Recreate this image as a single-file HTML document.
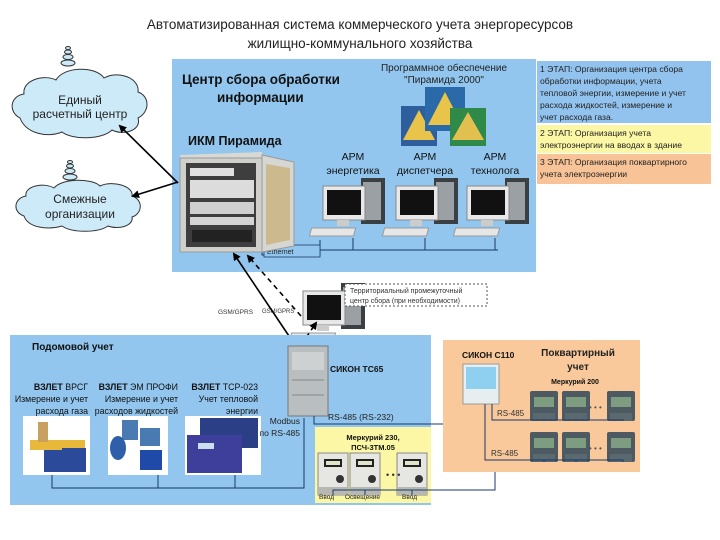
<!DOCTYPE html>
<html><head><meta charset="utf-8"><style>
html,body{margin:0;padding:0;background:#fff}
svg{display:block}
text{font-family:"Liberation Sans","DejaVu Sans",sans-serif}
</style></head><body>
<svg width="720" height="540" viewBox="0 0 720 540" xmlns="http://www.w3.org/2000/svg">
<defs>
<marker id="ar" markerWidth="8" markerHeight="8" refX="6" refY="4" orient="auto" markerUnits="userSpaceOnUse"><path d="M0,0 L8,4 L0,8 z" fill="#000"/></marker>
<g id="pc">
<rect x="38" y="0" width="24" height="46" fill="#3a3f44"/><rect x="40" y="4" width="18" height="38" fill="#9aa0a4"/>
<rect x="0" y="8" width="42" height="34" fill="#e8e8e8" stroke="#888"/><rect x="4" y="12" width="34" height="25" fill="#111"/>
<rect x="14" y="42" width="12" height="6" fill="#ccc"/>
<rect x="2" y="50" width="44" height="8" fill="#e6e6e6" stroke="#999" transform="skewX(-15)"/>
</g>
<g id="mer">
<rect x="0" y="0" width="28" height="30" fill="#4d5a62" rx="2"/><rect x="4" y="6" width="20" height="10" fill="#7e9c80"/>
<rect x="3" y="22" width="22" height="8" fill="#5a6870"/>
</g>
<g id="m230">
<rect x="0" y="0" width="30" height="42" fill="#e6e6e2" stroke="#888"/><rect x="6" y="6" width="18" height="8" fill="#222"/><rect x="8" y="8" width="14" height="4" fill="#dfe6c8"/>
<circle cx="22" cy="26" r="4" fill="#333"/><rect x="0" y="34" width="30" height="8" fill="#b8b8b2"/>
</g>
</defs>

<text x="360" y="29" font-size="13.5" text-anchor="middle" fill="#222">Автоматизированная система коммерческого учета энергоресурсов</text>
<text x="360" y="48" font-size="13.5" text-anchor="middle" fill="#222">жилищно-коммунального хозяйства</text>

<!-- top blue -->
<rect x="172" y="59" width="364" height="213" fill="#92c6ee"/>
<text x="182" y="84" font-size="13.5" font-weight="bold" fill="#111">Центр сбора обработки</text>
<text x="217" y="102" font-size="13.5" font-weight="bold" fill="#111">информации</text>
<text x="188" y="145" font-size="12.5" font-weight="bold" fill="#111">ИКМ Пирамида</text>
<text x="444" y="71" font-size="10" text-anchor="middle" fill="#222">Программное обеспечение</text>
<text x="444" y="83" font-size="10" text-anchor="middle" fill="#222">"Пирамида 2000"</text>
<rect x="401" y="106" width="36" height="40" fill="#2e5f9c"/><polygon points="403,140 419,110 435,140" fill="#e8c44a"/>
<rect x="425" y="87" width="40" height="44" fill="#2a6aa8"/><polygon points="428,125 445,92 462,125" fill="#e8c44a"/>
<rect x="450" y="108" width="36" height="38" fill="#2f8a4a"/><polygon points="452,140 468,112 484,140" fill="#e2c050"/>
<text x="353" y="160" font-size="10.5" text-anchor="middle" fill="#111">АРМ</text>
<text x="353" y="174" font-size="10.5" text-anchor="middle" fill="#111">энергетика</text>
<text x="425" y="160" font-size="10.5" text-anchor="middle" fill="#111">АРМ</text>
<text x="425" y="174" font-size="10.5" text-anchor="middle" fill="#111">диспетчера</text>
<text x="495" y="160" font-size="10.5" text-anchor="middle" fill="#111">АРМ</text>
<text x="495" y="174" font-size="10.5" text-anchor="middle" fill="#111">технолога</text>
<use href="#pc" x="323" y="178"/><use href="#pc" x="396" y="178"/><use href="#pc" x="467" y="178"/>
<polyline points="262,238 262,255 320,255 320,240" fill="none" stroke="#1a3a6a" stroke-width="1"/>
<rect x="264" y="245" width="56" height="12" fill="#92c6ee" stroke="#1a3a6a" stroke-width="0.8"/>
<text x="267" y="254" font-size="7" fill="#222">Ethernet</text>
<polyline points="320,250 498,250" fill="none" stroke="#1a3a6a"/>
<line x1="353" y1="250" x2="353" y2="238" stroke="#1a3a6a"/><line x1="425" y1="250" x2="425" y2="238" stroke="#1a3a6a"/><line x1="495" y1="250" x2="495" y2="238" stroke="#1a3a6a"/>
<!-- cabinet -->
<polygon points="180,155 262,152 262,158 180,160" fill="#d8d8d4"/>
<rect x="180" y="158" width="82" height="94" fill="#cfd0cc" stroke="#999"/>
<rect x="186" y="163" width="70" height="84" fill="#3e3e3e"/>
<rect x="190" y="168" width="44" height="8" fill="#e0e0e0"/><rect x="190" y="180" width="64" height="18" fill="#dcdcdc"/>
<rect x="190" y="202" width="64" height="12" fill="#cfcfcf"/><rect x="190" y="217" width="64" height="8" fill="#d4d4d4"/><rect x="192" y="230" width="60" height="12" fill="#222"/>
<polygon points="262,155 294,162 294,246 262,252" fill="#d6d6d2" stroke="#999"/>
<polygon points="266,164 290,168 290,240 266,245" fill="#cdb98e"/>

<!-- stage boxes -->
<rect x="537" y="61" width="174" height="62" fill="#92c3ee"/>
<g font-size="8.6" fill="#222">
<text x="540" y="72">1 ЭТАП: Организация центра сбора</text>
<text x="540" y="84">обработки информации, учета</text>
<text x="540" y="96">тепловой энергии, измерение и учет</text>
<text x="540" y="108">расхода жидкостей, измерение и</text>
<text x="540" y="120">учет расхода газа.</text>
</g>
<rect x="537" y="125" width="174" height="28" fill="#fbf7a4"/>
<g font-size="8.6" fill="#222"><text x="540" y="136">2 ЭТАП: Организация учета</text><text x="540" y="148">электроэнергии на вводах в здание</text></g>
<rect x="537" y="154" width="174" height="30" fill="#f7c397"/>
<g font-size="8.6" fill="#222"><text x="540" y="165">3 ЭТАП: Организация поквартирного</text><text x="540" y="177">учета электроэнергии</text></g>

<!-- clouds -->
<g fill="#cdeaf8" stroke="#333" stroke-width="1">
<path d="M20,118 C8,112 10,96 24,94 C22,80 44,74 56,80 C64,66 96,66 104,78 C118,70 140,78 138,92 C150,96 150,112 138,118 C142,130 124,136 112,130 C102,140 72,140 62,132 C48,138 26,134 20,118 z"/>
<path d="M24,216 C12,212 14,198 26,196 C24,186 44,182 54,188 C62,178 92,178 100,186 C112,180 134,186 132,196 C144,200 142,214 132,217 C134,226 118,230 108,226 C98,233 72,233 62,226 C48,230 28,228 24,216 z"/>
<ellipse cx="68" cy="63" rx="7" ry="3"/><ellipse cx="68" cy="57" rx="5" ry="2.5"/><ellipse cx="68" cy="52" rx="3.5" ry="2"/><ellipse cx="68" cy="48" rx="2.5" ry="1.5"/>
<ellipse cx="70" cy="177" rx="7" ry="3"/><ellipse cx="70" cy="171" rx="5" ry="2.5"/><ellipse cx="70" cy="166" rx="3.5" ry="2"/><ellipse cx="70" cy="162" rx="2.5" ry="1.5"/>
</g>
<text x="80" y="104" font-size="12" text-anchor="middle" fill="#222">Единый</text>
<text x="80" y="118" font-size="12" text-anchor="middle" fill="#222">расчетный центр</text>
<text x="80" y="203" font-size="12" text-anchor="middle" fill="#222">Смежные</text>
<text x="80" y="218" font-size="12" text-anchor="middle" fill="#222">организации</text>
<line x1="178" y1="183" x2="120" y2="126" stroke="#000" stroke-width="1.6" marker-end="url(#ar)"/>
<line x1="178" y1="182" x2="133" y2="196" stroke="#000" stroke-width="1.6" marker-end="url(#ar)"/>

<!-- territorial -->
<use href="#pc" x="303" y="283"/>
<rect x="345" y="284" width="142" height="22" fill="#fff" stroke="#555" stroke-dasharray="2,2"/>
<text x="350" y="293" font-size="7" fill="#333">Территориальный промежуточный</text>
<text x="350" y="303" font-size="7" fill="#333">центр сбора (при необходимости)</text>
<text x="218" y="314" font-size="6.5" fill="#333">GSM/GPRS</text>
<text x="262" y="313" font-size="6" fill="#333">GSM/GPRS</text>
<line x1="295" y1="345" x2="234" y2="254" stroke="#000" stroke-width="1.6" marker-end="url(#ar)"/>
<line x1="301" y1="316" x2="248" y2="256" stroke="#000" stroke-width="1.6" stroke-dasharray="5,4" marker-end="url(#ar)"/>
<line x1="301" y1="345" x2="316" y2="323" stroke="#000" stroke-width="1.6" stroke-dasharray="5,4" marker-end="url(#ar)"/>

<!-- bottom blue -->
<rect x="10" y="335" width="421" height="170" fill="#92c6ee"/>
<text x="32" y="350" font-size="10" font-weight="bold" fill="#111">Подомовой учет</text>
<g font-size="8.8" fill="#111" text-anchor="end">
<text x="88" y="390"><tspan font-weight="bold">ВЗЛЕТ</tspan> ВРСГ</text>
<text x="88" y="402">Измерение и учет</text><text x="88" y="414">расхода газа</text>
<text x="178" y="390"><tspan font-weight="bold">ВЗЛЕТ</tspan> ЭМ ПРОФИ</text>
<text x="178" y="402">Измерение и учет</text><text x="178" y="414">расходов жидкостей</text>
<text x="258" y="390"><tspan font-weight="bold">ВЗЛЕТ</tspan> ТСР-023</text>
<text x="258" y="402">Учет тепловой</text><text x="258" y="414">энергии</text>
</g>
<rect x="23" y="416" width="67" height="59" fill="#fff"/><rect x="30" y="440" width="55" height="10" fill="#e8b83a"/><rect x="44" y="450" width="22" height="22" fill="#2c4a9a"/><rect x="62" y="448" width="24" height="24" fill="#2c4a9a"/><rect x="38" y="422" width="10" height="20" fill="#c8a060"/>
<rect x="108" y="416" width="60" height="59" fill="#fff"/><rect x="122" y="420" width="16" height="20" fill="#4a7ab2"/><rect x="140" y="428" width="20" height="18" fill="#4a7ab2"/><ellipse cx="118" cy="448" rx="8" ry="12" fill="#2e5fa8"/><rect x="140" y="450" width="22" height="20" fill="#1f4aa8"/>
<rect x="185" y="416" width="76" height="59" fill="#fff"/><rect x="200" y="418" width="58" height="30" fill="#2b3f86"/><rect x="187" y="435" width="55" height="38" fill="#3d3f9a"/><rect x="198" y="443" width="16" height="6" fill="#cde"/>
<polyline points="52,475 52,488 304,488 304,418" fill="none" stroke="#1a3a6a"/>
<line x1="158" y1="475" x2="158" y2="488" stroke="#1a3a6a"/><line x1="235" y1="475" x2="235" y2="488" stroke="#1a3a6a"/>
<text x="300" y="424" font-size="8.5" text-anchor="end" fill="#222">Modbus</text>
<text x="300" y="436" font-size="8.5" text-anchor="end" fill="#222">по RS-485</text>
<!-- sikon tc65 -->
<rect x="288" y="346" width="40" height="70" fill="#b9bec0" stroke="#777"/><rect x="292" y="352" width="32" height="18" fill="#cdd1d2"/><line x1="292" y1="380" x2="324" y2="380" stroke="#888"/><line x1="292" y1="395" x2="324" y2="395" stroke="#888"/>
<text x="330" y="372" font-size="8.5" font-weight="bold" fill="#111">СИКОН ТС65</text>
<polyline points="314,416 314,424 490,424 490,408" fill="none" stroke="#1a3a6a"/>
<text x="328" y="420" font-size="8.5" fill="#222">RS-485 (RS-232)</text>
<!-- yellow -->
<rect x="315" y="427" width="116" height="76" fill="#fbf7a4"/>
<text x="373" y="440" font-size="7.5" font-weight="bold" text-anchor="middle" fill="#111">Меркурий 230,</text>
<text x="373" y="450" font-size="7.5" font-weight="bold" text-anchor="middle" fill="#111">ПСЧ-3ТМ.05</text>
<use href="#m230" x="318" y="453"/><use href="#m230" x="350" y="453"/><use href="#m230" x="397" y="453"/>
<text x="386" y="478" font-size="9" fill="#333">• • •</text>
<polyline points="333,495 333,490 495,490 495,420" fill="none" stroke="#1a3a6a"/>
<line x1="365" y1="495" x2="365" y2="490" stroke="#1a3a6a"/><line x1="412" y1="495" x2="412" y2="490" stroke="#1a3a6a"/>
<g font-size="6.5" fill="#222"><text x="319" y="499">Ввод</text><text x="345" y="499">Освещение</text><text x="402" y="499">Ввод</text></g>

<!-- orange -->
<rect x="443" y="340" width="197" height="132" fill="#f9c99b"/>
<text x="462" y="358" font-size="8.5" font-weight="bold" fill="#111">СИКОН С110</text>
<text x="578" y="356" font-size="10" font-weight="bold" text-anchor="middle" fill="#222">Поквартирный</text>
<text x="578" y="370" font-size="10" font-weight="bold" text-anchor="middle" fill="#222">учет</text>
<text x="575" y="384" font-size="7" font-weight="bold" text-anchor="middle" fill="#111">Меркурий 200</text>
<rect x="463" y="364" width="36" height="40" fill="#e6eef0" stroke="#999"/><rect x="466" y="367" width="30" height="22" fill="#8fd0f0"/>
<use href="#mer" x="530" y="391"/><use href="#mer" x="562" y="391"/><use href="#mer" x="607" y="391"/>
<use href="#mer" x="530" y="432"/><use href="#mer" x="562" y="432"/><use href="#mer" x="607" y="432"/>
<text x="589" y="410" font-size="8" fill="#555">• • •</text><text x="589" y="451" font-size="8" fill="#555">• • •</text>
<polyline points="492,404 492,420 623,420 623,421" fill="none" stroke="#1a3a6a"/>
<line x1="544" y1="420" x2="544" y2="421" stroke="#1a3a6a"/><line x1="576" y1="420" x2="576" y2="421" stroke="#1a3a6a"/>
<polyline points="485,404 485,460 623,460 623,462" fill="none" stroke="#1a3a6a"/>
<line x1="544" y1="460" x2="544" y2="462" stroke="#1a3a6a"/><line x1="576" y1="460" x2="576" y2="462" stroke="#1a3a6a"/>
<text x="497" y="416" font-size="8" fill="#333">RS-485</text>
<text x="491" y="456" font-size="8" fill="#333">RS-485</text>
</svg>
</body></html>
